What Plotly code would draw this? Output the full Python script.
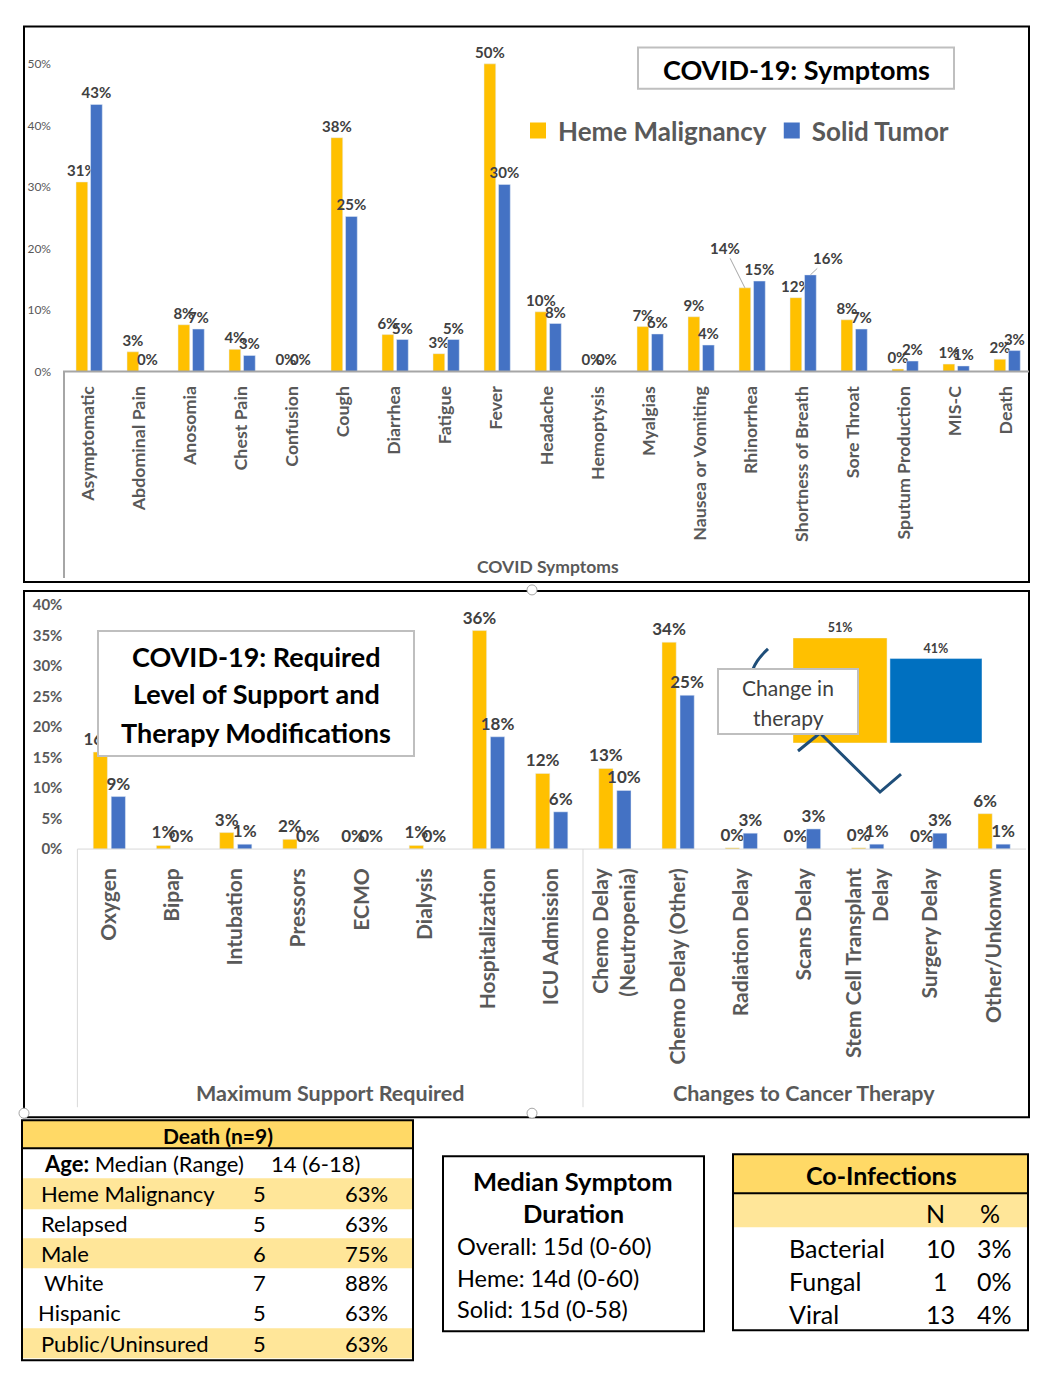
import plotly.graph_objects as go

W, H = 1046, 1375
# small vertical correction so the photographed page lines up with the reference
VA, VB = 0.990, 5.4
def X(x): return x / W
def Y(y): return 1 - ((y - VB) / VA) / H

FONT = "Lato"
GRAY = "#595959"
LBL = "#404040"
YEL = "#FFC000"
BLU = "#4472C4"
BLU2 = "#0070C0"

# ---------------- Data ----------------
symptoms = ["Asymptomatic", "Abdominal Pain", "Anosomia", "Chest Pain", "Confusion", "Cough",
            "Diarrhea", "Fatigue", "Fever", "Headache", "Hemoptysis", "Myalgias",
            "Nausea or Vomiting", "Rhinorrhea", "Shortness of Breath", "Sore Throat",
            "Sputum Production", "MIS-C", "Death"]
sym_heme = [30.8, 3.2, 7.6, 3.6, 0, 38.0, 6.0, 2.9, 50.0, 9.7, 0, 7.3, 8.9, 13.6, 12.0, 8.4, 0.4, 1.2, 2.0]
sym_solid = [43.4, 0, 6.9, 2.6, 0, 25.2, 5.2, 5.2, 30.4, 7.8, 0, 6.1, 4.3, 14.7, 15.7, 6.9, 1.7, 0.9, 3.4]
sym_yticks = [0, 10, 20, 30, 40, 50]

support = ["Oxygen", "Bipap", "Intubation", "Pressors", "ECMO", "Dialysis", "Hospitalization",
           "ICU Admission", "Chemo Delay<br>(Neutropenia)", "Chemo Delay (Other)", "Radiation Delay",
           "Scans Delay", "Stem Cell Transplant<br>Delay", "Surgery Delay", "Other/Unkonwn"]
sup_heme = [15.9, 0.6, 2.7, 1.6, 0, 0.6, 35.8, 12.4, 13.2, 33.9, 0.2, 0, 0.2, 0, 5.8]
sup_solid = [8.6, 0, 0.8, 0, 0, 0, 18.4, 6.1, 9.6, 25.2, 2.6, 3.3, 0.8, 2.6, 0.8]
sup_yticks = [0, 5, 10, 15, 20, 25, 30, 35, 40]
sup_groups = ["Maximum Support Required", "Changes to Cancer Therapy"]

change_groups = ["Heme", "Solid"]
change_values = [51, 41]

death_header = "Death (n=9)"
death_age = ("Age:", "Median (Range)", "14 (6-18)")
death_rows = ["Heme Malignancy", "Relapsed", "Male", "White", "Hispanic", "Public/Uninsured"]
death_n = [5, 5, 6, 7, 5, 5]
death_pct = ["63%", "63%", "75%", "88%", "63%", "63%"]

duration_title = ["Median Symptom", "Duration"]
duration_lines = ["Overall: 15d (0-60)", "Heme: 14d (0-60)", "Solid: 15d (0-58)"]

coinf_title = "Co-Infections"
coinf_types = ["Bacterial", "Fungal", "Viral"]
coinf_n = [10, 1, 13]
coinf_pct = ["3%", "0%", "4%"]

# labels drawn with leader lines instead of plain outside text
leader_heme = {"Rhinorrhea": (-20, -40)}
leader_solid = {"Shortness of Breath": (18, -17)}

# ---------------- Figure ----------------
fig = go.Figure()

c1_left, c1_unit = 63.0, 51.0
c1_base, c1_px10 = 371.7, 61.5
c1_top = 40.0
c2_left, c2_unit = 77.4, 63.2
c2_base, c2_px1 = 849.0, 6.1
c2_top = 600.0

lblfont1 = dict(family=FONT, size=15, color=LBL, weight="bold")
lblfont2 = dict(family=FONT, size=17, color=LBL, weight="bold")

def texts(cats, vals, skip):
    return ["" if c in skip else f"{v:.0f}%" for c, v in zip(cats, vals)]

fig.add_trace(go.Bar(x=symptoms, y=sym_heme, name="Heme Malignancy", marker_color=YEL,
                     offset=-0.245, width=0.23, text=texts(symptoms, sym_heme, leader_heme),
                     textposition="outside",
                     textfont=lblfont1, constraintext="none", cliponaxis=False, textangle=0,
                     xaxis="x", yaxis="y", showlegend=False))
fig.add_trace(go.Bar(x=symptoms, y=sym_solid, name="Solid Tumor", marker_color=BLU,
                     offset=0.04, width=0.23, text=texts(symptoms, sym_solid, leader_solid),
                     textposition="outside",
                     textfont=lblfont1, constraintext="none", cliponaxis=False, textangle=0,
                     xaxis="x", yaxis="y", showlegend=False))

# legend entries (larger square markers)
fig.add_trace(go.Scatter(x=[None], y=[None], mode="markers", name="Heme Malignancy",
                         marker=dict(symbol="square", size=16, color=YEL), xaxis="x", yaxis="y"))
fig.add_trace(go.Scatter(x=[None], y=[None], mode="markers", name="Solid Tumor",
                         marker=dict(symbol="square", size=16, color=BLU), xaxis="x", yaxis="y"))

fig.add_trace(go.Bar(x=support, y=sup_heme, name="Heme Malignancy", marker_color=YEL,
                     offset=-0.25, width=0.225, texttemplate="%{y:.0f}%", textposition="outside",
                     textfont=lblfont2, constraintext="none", cliponaxis=False, textangle=0,
                     xaxis="x2", yaxis="y2", showlegend=False))
fig.add_trace(go.Bar(x=support, y=sup_solid, name="Solid Tumor", marker_color=BLU,
                     offset=0.035, width=0.225, texttemplate="%{y:.0f}%", textposition="outside",
                     textfont=lblfont2, constraintext="none", cliponaxis=False, textangle=0,
                     xaxis="x2", yaxis="y2", showlegend=False))

fig.add_trace(go.Bar(x=change_groups, y=change_values, marker_color=[YEL, BLU2],
                     offset=[-0.5, -0.474], width=[0.995, 0.974], texttemplate="%{y}%",
                     textposition="outside", textfont=dict(family=FONT, size=12.5, color=LBL, weight="bold"),
                     constraintext="none", cliponaxis=False, xaxis="x3", yaxis="y3", showlegend=False))

shapes = []
ann = []

def rect(x0, y0, x1, y1, line="#000000", lw=2, fill="rgba(0,0,0,0)", layer="above"):
    shapes.append(dict(type="rect", xref="paper", yref="paper", x0=X(x0), x1=X(x1), y0=Y(y1), y1=Y(y0),
                       line=dict(color=line, width=lw), fillcolor=fill, layer=layer))

def line(x0, y0, x1, y1, color, lw, layer="above"):
    shapes.append(dict(type="line", xref="paper", yref="paper", x0=X(x0), x1=X(x1), y0=Y(y0), y1=Y(y1),
                       line=dict(color=color, width=lw), layer=layer))

def text(x, y, s, size, color="#000000", bold=False, xanchor="center"):
    ann.append(dict(xref="paper", yref="paper", x=X(x), y=Y(y), text=s, showarrow=False,
                    xanchor=xanchor, yanchor="middle",
                    font=dict(family=FONT, size=size, color=color, weight="bold" if bold else "normal")))

# leader-line labels (chart 1)
for cats, vals, leaders, off, wd in [(symptoms, sym_heme, leader_heme, -0.245, 0.23),
                                     (symptoms, sym_solid, leader_solid, 0.04, 0.23)]:
    for c, (dx, dy) in leaders.items():
        v = vals[cats.index(c)]
        ann.append(dict(xref="x", yref="y", x=c, y=v, xshift=(off + wd / 2) * c1_unit,
                        text=f"{v:.0f}%", showarrow=True, arrowhead=0, arrowwidth=1,
                        arrowcolor="#A6A6A6", ax=dx, ay=dy, standoff=0,
                        font=lblfont1))

# frames
rect(24, 27, 1029, 582)
rect(24, 591, 1029, 1117)

# chart 1 decoration
line(63, c1_base, 1029, c1_base, "#A6A6A6", 2)
line(64, c1_base, 64, 578, "#A6A6A6", 2)
rect(638, 48, 954, 89, line="#BFBFBF", lw=2, fill="white")
text(796, 70, "COVID-19: Symptoms", 27, bold=True)
text(548, 567, "COVID Symptoms", 17.5, GRAY, bold=True)

# chart 2 decoration
line(c2_left, c2_base, 1026, c2_base, "#D9D9D9", 1)
line(c2_left, c2_base, c2_left, 1107, "#D9D9D9", 1)
sep = c2_left + 8 * c2_unit
line(sep, c2_base, sep, 1107, "#D9D9D9", 1)
text(330, 1093, sup_groups[0], 21.5, GRAY, bold=True)
text(804, 1093, sup_groups[1], 21.5, GRAY, bold=True)
rect(98, 631, 414, 756, line="#BFBFBF", lw=2, fill="white")
text(256, 657, "COVID-19: Required", 27, bold=True)
text(256, 694, "Level of Support and", 27, bold=True)
text(256, 732, "Therapy Modifications", 27, bold=True)

# callout
shapes.append(dict(type="path", xref="paper", yref="paper",
                   path=f"M {X(768)},{Y(649)} Q {X(757)},{Y(659)} {X(753)},{Y(669)}",
                   line=dict(color="#1F4E79", width=3), layer="above"))
shapes.append(dict(type="path", xref="paper", yref="paper",
                   path=f"M {X(798)},{Y(751)} L {X(820)},{Y(733)} L {X(880)},{Y(792)} L {X(901)},{Y(774)}",
                   line=dict(color="#1F4E79", width=3), layer="above"))
rect(718, 669, 858, 734, line="#BFBFBF", lw=2, fill="white")
text(788, 688, "Change in", 21, LBL)
text(788, 718, "therapy", 21, LBL)

# handles
for (hx, hy) in [(532, 590), (532, 1113), (24, 1113)]:
    shapes.append(dict(type="circle", xref="paper", yref="paper", x0=X(hx - 5), x1=X(hx + 5),
                       y0=Y(hy + 5), y1=Y(hy - 5), line=dict(color="#A6A6A6", width=1),
                       fillcolor="white", layer="above"))

# ---------------- Death table ----------------
tl, tr = 22, 413
bands = [1120, 1148, 1178, 1209, 1238, 1268, 1297, 1328, 1358]
rect(tl, bands[0], tr, bands[1], line="rgba(0,0,0,0)", lw=0, fill="#FFD966")
fills = ["#FFE699", None, "#FFE699", None, None, "#FFE699"]
for i, f in enumerate(fills):
    if f:
        rect(tl, bands[i + 2], tr, bands[i + 3], line="rgba(0,0,0,0)", lw=0, fill=f)
line(tl, bands[1], tr, bands[1], "#000000", 2)
rect(tl, bands[0], tr, 1360)
text((tl + tr) / 2, (bands[0] + bands[1]) / 2 + 1, death_header, 21, bold=True)
text(42, (bands[1] + bands[2]) / 2, f"<b>{death_age[0]}</b> {death_age[1]}", 22, xanchor="left")
text(269, (bands[1] + bands[2]) / 2, death_age[2], 22, xanchor="left")
row_x = [39, 39, 39, 42, 36, 39]
for i, lab in enumerate(death_rows):
    yc = (bands[i + 2] + bands[i + 3]) / 2
    text(row_x[i], yc, lab, 22, xanchor="left")
    text(259, yc, str(death_n[i]), 22)
    text(390, yc, death_pct[i], 22, xanchor="right")

# ---------------- Duration box ----------------
rect(443, 1156, 704, 1331)
text(573, 1181, duration_title[0], 25.5, bold=True)
text(573, 1213, duration_title[1], 25.5, bold=True)
for i, s in enumerate(duration_lines):
    text(455, 1246 + i * 31.5, s, 23.5, xanchor="left")

# ---------------- Co-infections ----------------
cl, cr = 733, 1028
rect(cl, 1154, cr, 1193, line="rgba(0,0,0,0)", lw=0, fill="#FFD966")
rect(cl, 1193, cr, 1227, line="rgba(0,0,0,0)", lw=0, fill="#FFE699")
line(cl, 1193, cr, 1193, "#000000", 2)
rect(cl, 1154, cr, 1330)
text(881, 1175, coinf_title, 25, bold=True)
text(935, 1213, "N", 25)
text(990, 1213, "%", 25)
for i, t in enumerate(coinf_types):
    yc = 1248 + i * 33
    text(787, yc, t, 25, xanchor="left")
    text(940, yc, str(coinf_n[i]), 25)
    text(1014, yc, coinf_pct[i], 25, xanchor="right")

fig.update_layout(
    width=W, height=H, margin=dict(l=0, r=0, t=0, b=0),
    paper_bgcolor="white", plot_bgcolor="rgba(0,0,0,0)",
    font=dict(family=FONT, color=GRAY),
    barmode="overlay",
    shapes=shapes, annotations=ann,
    legend=dict(orientation="h", x=X(518), y=Y(131), xanchor="left", yanchor="middle",
                font=dict(family=FONT, size=26, color=GRAY, weight="bold"),
                bgcolor="rgba(0,0,0,0)", itemclick=False, traceorder="normal"),
    xaxis=dict(domain=[X(c1_left), X(c1_left + 19 * c1_unit)], range=[-0.5, 18.5], anchor="y",
               showgrid=False, showline=False, zeroline=False, ticks="", tickangle=-90,
               tickfont=dict(family=FONT, size=17.8, color=GRAY, weight="bold"), ticklabelstandoff=10),
    yaxis=dict(domain=[Y(c1_base), Y(c1_top)], range=[0, (c1_base - c1_top) / c1_px10 * 10], anchor="x",
               showgrid=False, showline=False, zeroline=False, ticks="",
               tickvals=sym_yticks, ticktext=[f"{v}%" for v in sym_yticks],
               tickfont=dict(family=FONT, size=12, color=GRAY), ticklabelstandoff=11),
    xaxis2=dict(domain=[X(c2_left), X(c2_left + 15 * c2_unit)], range=[-0.5, 14.5], anchor="y2",
                showgrid=False, showline=False, zeroline=False, ticks="", tickangle=-90,
                tickfont=dict(family=FONT, size=21, color=GRAY, weight="bold"), ticklabelstandoff=14),
    yaxis2=dict(domain=[Y(c2_base), Y(c2_top)], range=[0, (c2_base - c2_top) / c2_px1], anchor="x2",
                showgrid=False, showline=False, zeroline=False, ticks="",
                tickvals=sup_yticks, ticktext=[f"{v}%" for v in sup_yticks],
                tickfont=dict(family=FONT, size=15, color=GRAY, weight="bold"), ticklabelstandoff=14),
    xaxis3=dict(domain=[X(793), X(982)], range=[-0.5, 1.5], anchor="y3", visible=False),
    yaxis3=dict(domain=[Y(743), Y(638)], range=[0, 51], anchor="x3", visible=False),
)

fig.write_html("out.html",
               post_script="document.body.style.margin='0';document.body.style.overflow='hidden';")
